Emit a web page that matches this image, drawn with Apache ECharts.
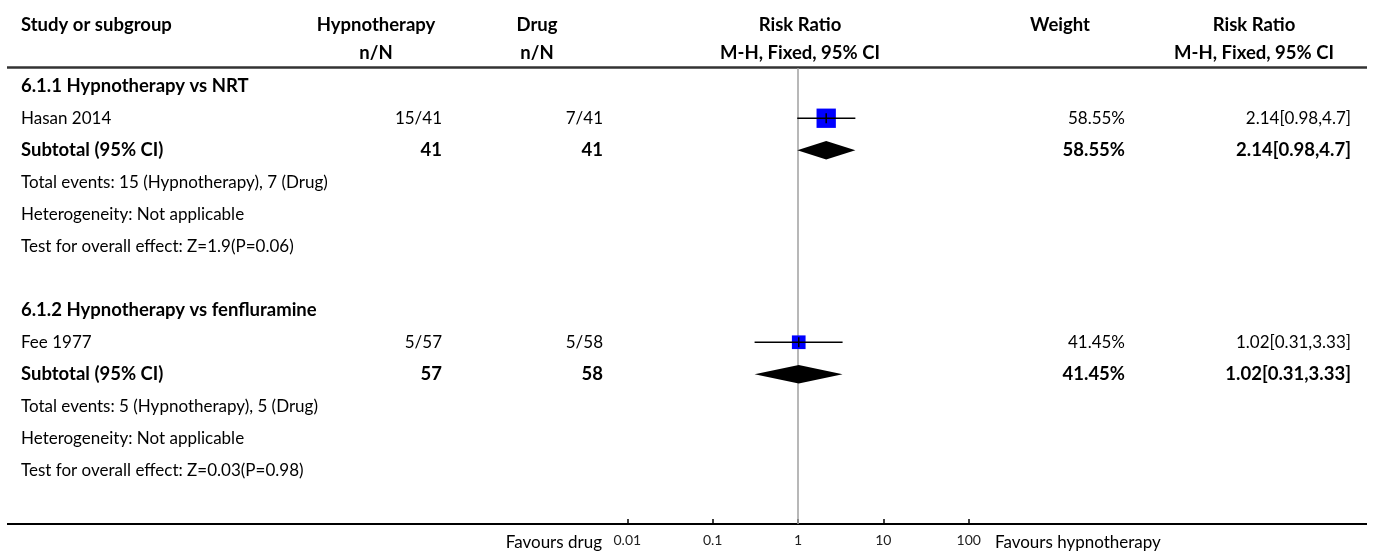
<!DOCTYPE html>
<html>
<head>
<meta charset="utf-8">
<script src="https://cdn.jsdelivr.net/npm/echarts@6/dist/echarts.min.js"></script>
<style>
  html, body { margin: 0; padding: 0; background: #fff; }
  #chart { width: 1375px; height: 554px; }
</style>
</head>
<body>
<div id="chart"></div>
<script>
// table rows (one entry per row, row 6 is the blank spacer)
const rowLabels = [
  '6.1.1 Hypnotherapy vs NRT',
  'Hasan 2014',
  'Subtotal (95% CI)',
  'Total events: 15 (Hypnotherapy), 7 (Drug)',
  'Heterogeneity: Not applicable',
  'Test for overall effect: Z=1.9(P=0.06)',
  '',
  '6.1.2 Hypnotherapy vs fenfluramine',
  'Fee 1977',
  'Subtotal (95% CI)',
  'Total events: 5 (Hypnotherapy), 5 (Drug)',
  'Heterogeneity: Not applicable',
  'Test for overall effect: Z=0.03(P=0.98)'
]
const rowBold = [true, false, true, false, false, false, false, true, false, true, false, false, false]
const expCol = ['', '15/41', '41', '', '', '', '', '', '5/57', '57', '', '', '']
const ctrlCol = ['', '7/41', '41', '', '', '', '', '', '5/58', '58', '', '', '']
const weightCol = ['', '58.55%', '58.55%', '', '', '', '', '', '41.45%', '41.45%', '', '', '']
const effectCol = ['', '2.14[0.98,4.7]', '2.14[0.98,4.7]', '', '', '', '', '', '1.02[0.31,3.33]', '1.02[0.31,3.33]', '', '', '']

// individual studies
const studyRows = [1, 8]
const studyRR = [2.14, 1.02]
const studyLo = [0.98, 0.31]
const studyHi = [4.7, 3.33]
const studyWeight = [58.55, 41.45]

// subtotals
const totalRows = [2, 9]
const totalRR = [2.14, 1.02]
const totalLo = [0.98, 0.31]
const totalHi = [4.7, 3.33]

const tickValues = [0.01, 0.1, 1, 10, 100]
const tickLabels = ['0.01', '0.1', '1', '10', '100']

const headerTop = ['Study or subgroup', 'Hypnotherapy', 'Drug', 'Risk Ratio', 'Weight', 'Risk Ratio']
const headerSub = ['', 'n/N', 'n/N', 'M-H, Fixed, 95% CI', '', 'M-H, Fixed, 95% CI']
const favourLeft = 'Favours drug'
const favourRight = 'Favours hypnotherapy'

const FONT = 'Lato'
const FS = 17
const FS_BOLD = 18.5
const headerX = [21, 376, 537, 800, 1060, 1254]
const headerAlign = ['left', 'center', 'center', 'center', 'center', 'center']

const chart = echarts.init(document.getElementById('chart'), null, { renderer: 'canvas' })

function txt(x, y, text, align, bold, size) {
  return {
    type: 'text',
    style: {
      x, y, text,
      align,
      verticalAlign: 'middle',
      fontFamily: FONT,
      fontSize: size || (bold ? FS_BOLD : FS),
      fontWeight: bold ? 'bold' : 'normal',
      fill: '#000'
    }
  }
}

function renderRow(params, api) {
  const i = params.dataIndex
  const y = api.coord([1, api.value(1)])[1]
  const b = rowBold[i]
  return {
    type: 'group',
    children: [
      txt(21, y, rowLabels[i], 'left', b),
      txt(442, y, expCol[i], 'right', b),
      txt(603, y, ctrlCol[i], 'right', b),
      txt(1125, y, weightCol[i], 'right', b),
      txt(1351, y, effectCol[i], 'right', b)
    ]
  }
}

function renderStudy(params, api) {
  const row = api.value(3)
  const c = api.coord([api.value(0), row])
  const lo = api.coord([api.value(1), row])
  const hi = api.coord([api.value(2), row])
  const s = api.value(4) * 0.33
  return {
    type: 'group',
    children: [
      { type: 'rect', shape: { x: c[0] - s / 2, y: c[1] - s / 2, width: s, height: s }, style: { fill: '#0000ff' } },
      { type: 'line', shape: { x1: lo[0], y1: c[1], x2: hi[0], y2: c[1] }, style: { stroke: '#000', lineWidth: 1.5 } },
      { type: 'line', shape: { x1: c[0], y1: c[1] - 5, x2: c[0], y2: c[1] + 5 }, style: { stroke: '#000', lineWidth: 1.5 } }
    ]
  }
}

function renderDiamond(params, api) {
  const row = api.value(3)
  const c = api.coord([api.value(0), row])
  const lo = api.coord([api.value(1), row])
  const hi = api.coord([api.value(2), row])
  const h = 9.3
  return {
    type: 'polygon',
    shape: { points: [[lo[0], c[1]], [c[0], c[1] - h], [hi[0], c[1]], [c[0], c[1] + h]] },
    style: { fill: '#000' }
  }
}

function renderNullLine(params, api) {
  const x = api.coord([api.value(0), 0])[0]
  const cs = params.coordSys
  return {
    type: 'line',
    shape: { x1: x, y1: cs.y, x2: x, y2: cs.y + cs.height },
    style: { stroke: '#a0a0a0', lineWidth: 1.5 }
  }
}

const graphics = [
  { type: 'line', shape: { x1: 7, y1: 67.5, x2: 1367, y2: 67.5 }, style: { stroke: '#333', lineWidth: 2.5 } },
  { type: 'line', shape: { x1: 7, y1: 524, x2: 1367, y2: 524 }, style: { stroke: '#000', lineWidth: 2 } },
  txt(602, 543, favourLeft, 'right', false),
  txt(995, 543, favourRight, 'left', false)
]
headerTop.forEach((t, i) => graphics.push(txt(headerX[i], 25, t, headerAlign[i], true)))
headerSub.forEach((t, i) => graphics.push(txt(headerX[i], 53, t, headerAlign[i], true)))

chart.setOption({
  animation: false,
  graphic: graphics,
  grid: { left: 627.3, width: 341.4, top: 68, height: 456 },
  xAxis: {
    type: 'log',
    logBase: 10,
    min: 0.01,
    max: 100,
    position: 'bottom',
    axisLine: { onZero: false, lineStyle: { color: '#000', width: 2 } },
    axisTick: { inside: true, length: 5, lineStyle: { color: '#000', width: 1.5 } },
    axisLabel: {
      margin: 9,
      fontFamily: FONT,
      fontSize: 14,
      color: '#222',
      formatter: (v) => {
        const k = tickValues.findIndex((t) => Math.abs(Math.log10(t) - Math.log10(v)) < 1e-6)
        return k >= 0 ? tickLabels[k] : ''
      }
    },
    splitLine: { show: false }
  },
  yAxis: {
    type: 'value',
    inverse: true,
    min: -0.57,
    max: 13.68,
    show: false
  },
  series: [
    {
      type: 'custom',
      renderItem: renderNullLine,
      clip: false,
      data: [[1]]
    },
    {
      type: 'custom',
      renderItem: renderRow,
      clip: false,
      data: rowLabels.map((_, i) => [1, i])
    },
    {
      type: 'custom',
      renderItem: renderStudy,
      clip: false,
      data: studyRows.map((r, i) => [studyRR[i], studyLo[i], studyHi[i], r, studyWeight[i]])
    },
    {
      type: 'custom',
      renderItem: renderDiamond,
      clip: false,
      data: totalRows.map((r, i) => [totalRR[i], totalLo[i], totalHi[i], r])
    }
  ]
})

window.addEventListener('resize', () => chart.resize())
</script>
</body>
</html>
